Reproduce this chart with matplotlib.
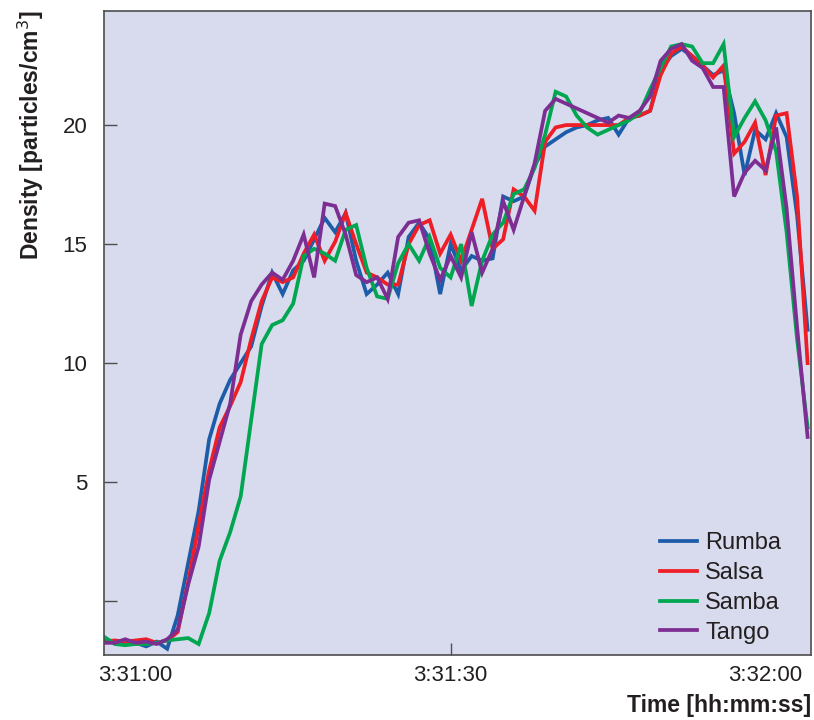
import numpy as np
import matplotlib.pyplot as plt

plt.rcParams['font.family'] = ['Liberation Sans', 'DejaVu Sans']

# seconds relative to 3:31:00
seconds = np.arange(-3, 65)

rumba = [-1.55, -1.75, -1.8, -1.75, -1.9, -1.7, -2.0, -0.6, 1.6, 3.8,
         6.8, 8.3, 9.3, 10.0, 10.7, 12.4, 13.8, 12.9, 13.9, 14.3,
         15.2, 16.1, 15.5, 16.3, 14.3, 12.9, 13.3, 13.8, 12.9, 15.3,
         15.9, 15.2, 12.9, 15.0, 13.9, 14.5, 14.3, 14.4, 17.0, 16.8,
         17.0, 18.3, 19.1, 19.4, 19.7, 19.9, 20.0, 20.2, 20.3, 19.6,
         20.3, 20.4, 20.6, 22.3, 22.9, 23.2, 22.9, 22.5, 22.1, 22.3,
         20.5, 17.9, 19.8, 19.4, 20.5, 19.5, 16.2, 11.4]
salsa = [-1.7, -1.65, -1.7, -1.65, -1.6, -1.75, -1.65, -1.3, 0.8, 3.2,
         5.5, 7.3, 8.2, 9.2, 11.0, 12.6, 13.6, 13.4, 13.6, 14.6,
         15.4, 14.3, 15.1, 16.3, 15.0, 13.8, 13.6, 13.3, 13.3, 15.0,
         15.8, 16.0, 14.6, 15.4, 14.3, 15.6, 16.9, 14.8, 15.2, 17.3,
         17.0, 16.4, 19.3, 19.9, 20.0, 20.0, 20.0, 20.0, 20.0, 20.0,
         20.3, 20.4, 20.6, 22.1, 23.0, 23.3, 22.9, 22.5, 22.0, 22.5,
         18.8, 19.3, 20.1, 17.9, 20.4, 20.5, 17.0, 10.0]
samba = [-1.5, -1.8, -1.85, -1.8, -1.8, -1.75, -1.65, -1.6, -1.55, -1.8,
         -0.5, 1.7, 2.9, 4.4, 7.6, 10.8, 11.6, 11.8, 12.5, 14.5,
         14.8, 14.6, 14.3, 15.6, 15.8, 14.0, 12.8, 12.7, 14.2, 15.0,
         14.3, 15.3, 14.0, 13.6, 15.0, 12.4, 14.3, 15.4, 15.9, 17.1,
         17.3, 18.2, 19.6, 21.4, 21.2, 20.4, 19.9, 19.6, 19.8, 20.0,
         20.2, 20.5, 21.5, 22.4, 23.3, 23.4, 23.3, 22.6, 22.6, 23.4,
         19.5, 20.3, 21.0, 20.2, 18.9, 15.5, 11.0, 7.3]
tango = [-1.75, -1.75, -1.6, -1.75, -1.7, -1.8, -1.6, -1.2, 0.7, 2.3,
         5.1, 6.7, 8.3, 11.2, 12.6, 13.3, 13.8, 13.5, 14.3, 15.4,
         13.6, 16.7, 16.6, 15.4, 13.7, 13.4, 13.6, 12.7, 15.3, 15.9,
         16.0, 14.6, 13.5, 14.5, 13.6, 15.5, 13.8, 14.8, 16.8, 15.6,
         17.0, 18.4, 20.6, 21.1, 20.9, 20.7, 20.5, 20.3, 20.1, 20.4,
         20.3, 20.6, 21.2, 22.7, 23.2, 23.4, 22.7, 22.4, 21.6, 21.6,
         17.0, 18.0, 18.5, 18.1, 19.9, 16.5, 11.5, 6.9]

names = ['Rumba', 'Salsa', 'Samba', 'Tango']
colors = ['#1d5ca8', '#ee1d26', '#00a650', '#7d2e92']

x_ticks = [0, 30, 60]
x_labels = ['3:31:00', '3:31:30', '3:32:00']
y_ticks = [0, 5, 10, 15, 20]
y_labels = ['', '5', '10', '15', '20']

text_color = '#231f20'
edge_color = '#4d4d4f'

fig = plt.figure(figsize=(8.14, 7.2), dpi=100)
ax = fig.add_axes([0.128, 0.09, 0.868, 0.895])
ax.set_facecolor('#d8dbed')

for data, name, color in zip([rumba, salsa, samba, tango], names, colors):
    ax.plot(seconds, data, color=color, lw=2.7, label=name,
            solid_joinstyle='miter')

ax.set_xlim(-3, 64.3)
ax.set_ylim(-2.27, 24.8)

ax.set_xticks(x_ticks)
ax.set_xticklabels(x_labels)
ax.set_yticks(y_ticks)
ax.set_yticklabels(y_labels)
ax.tick_params(direction='in', length=9, width=1, color=edge_color,
               labelsize=16, labelcolor=text_color, pad=7)
ax.tick_params(axis='y', pad=12)
# only the middle time tick gets a visible mark
for i, tick in enumerate(ax.xaxis.get_major_ticks()):
    if i != 1:
        tick.tick1line.set_visible(False)

for spine in ax.spines.values():
    spine.set_color(edge_color)
    spine.set_linewidth(1.2)

ax.set_ylabel('Density [particles/cm$^3$]', fontsize=16.5,
              fontweight='bold', color=text_color, loc='top', labelpad=12)
ax.set_xlabel('Time [hh:mm:ss]', fontsize=16.5, fontweight='bold',
              color=text_color, loc='right', labelpad=6)

ax.legend(loc='lower right', bbox_to_anchor=(0.958, 0.018), frameon=False,
          fontsize=17, handlelength=1.55, handletextpad=0.35,
          labelspacing=0.33, borderpad=0, borderaxespad=0,
          labelcolor=text_color)

fig.savefig('out.png', dpi=100)
